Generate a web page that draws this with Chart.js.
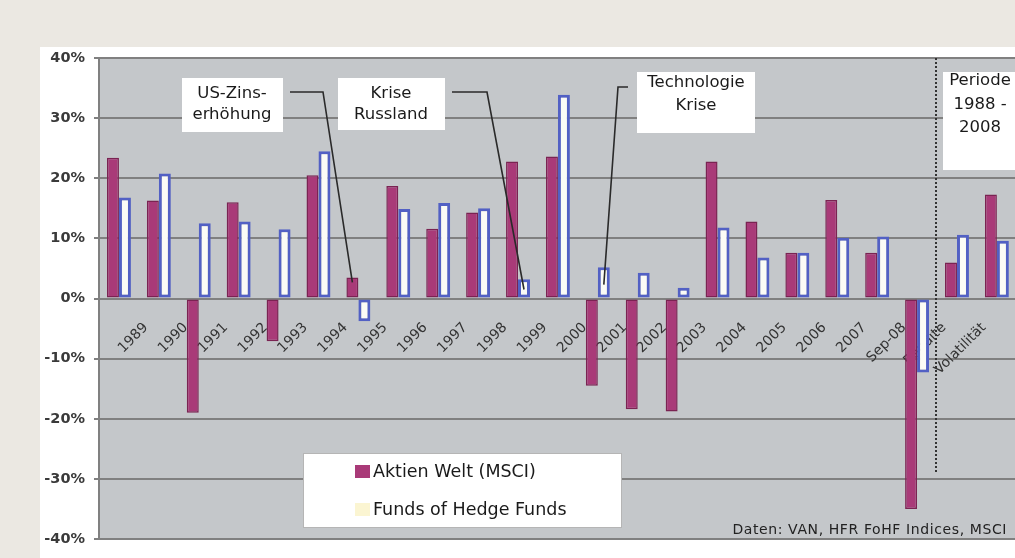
<!DOCTYPE html>
<html><head><meta charset="utf-8">
<script src="https://cdn.jsdelivr.net/npm/chart.js@4.4.1/dist/chart.umd.min.js"></script>
<style>
html,body{margin:0;padding:0;width:1015px;height:558px;overflow:hidden;background:#ebe8e2;}
#panel{position:absolute;left:40px;top:47px;width:1000px;height:520px;background:#ffffff;}
#c{position:absolute;left:0;top:0;}
</style></head><body>
<div id="panel"></div>
<canvas id="c" width="1030" height="558" style="width:1030px;height:558px"></canvas>
<script>
// ---- data ----
const categories = ['1988','1989','1990','1991','1992','1993','1994','1995','1996','1997','1998','1999','2000','2001','2002','2003','2004','2005','2006','2007','Sep-08','Rendite','Volatilität'];
const tickLabels = ['','1989','1990','1991','1992','1993','1994','1995','1996','1997','1998','1999','2000','2001','2002','2003','2004','2005','2006','2007','Sep-08','Rendite','Volatilität'];
const aktienWelt = [23.4,16.3,-19.0,16.0,-7.1,20.5,3.5,18.7,11.6,14.3,22.8,23.6,-14.5,-18.4,-18.8,22.8,12.8,7.6,16.4,7.6,-35.0,6.0,17.3];
const fundsOfHedgeFunds = [16.8,20.8,12.5,12.8,11.5,24.5,-3.8,14.9,15.9,15.0,3.2,33.9,5.2,4.3,1.8,11.8,6.8,7.6,10.1,10.3,-12.3,10.6,9.6];
const seriesNames = ['Aktien Welt (MSCI)','Funds of Hedge Funds'];
const yTickValues = [-40,-30,-20,-10,0,10,20,30,40];
const yTickLabels = ['-40%','-30%','-20%','-10%','0%','10%','20%','30%','40%'];
const annotationTexts = [['US-Zins-','erhöhung'],['Krise','Russland'],['Technologie','Krise'],['Periode','1988 -','2008']];
const annotationTargets = [{cat:'1994',series:0,value:2.7},{cat:'1998',series:1,value:1.5},{cat:'2000',series:1,value:2.3},null];
const sourceText = 'Daten: VAN, HFR FoHF Indices, MSCI';
const separatorAfter = 'Sep-08';
const separatorEndValue = -29;

// ---- layout / style ----
const boxLayout = [
  {x:182,y:78,w:101,h:54,cx:232,lines:[94,115],elbow:[[290,92],[323,92]]},
  {x:338,y:78,w:107,h:52,cx:391,lines:[94,115],elbow:[[452,92],[487,92]]},
  {x:637,y:72,w:118,h:61,cx:696,lines:[83,106],elbow:[[628,87],[618,87]]},
  {x:943,y:72,w:90,h:98,cx:980,lines:[81,105,128],elbow:null}
];
const magenta = '#a93a78', magentaBorder = '#7a2352';
const fohfFill = '#fbfbf6', fohfBorder = '#5260c4', fohfSwatch = '#fbf5d2';
const gridColor = '#808080';

const plotBg = {
  id:'plotBg',
  beforeDraw(chart){
    const {ctx, chartArea:a} = chart;
    ctx.save(); ctx.fillStyle = '#c4c7ca';
    ctx.fillRect(a.left, a.top, a.right - a.left, a.bottom - a.top);
    ctx.restore();
  }
};

const overlay = {
  id:'overlay',
  afterDraw(chart){
    const {ctx, scales:{x, y}, chartArea:a} = chart;
    ctx.save();
    // separator line
    const si = categories.indexOf(separatorAfter);
    const sx = Math.round((x.getPixelForValue(si) + x.getPixelForValue(si+1)) / 2) - 1;
    ctx.strokeStyle = '#333333'; ctx.lineWidth = 2; ctx.setLineDash([2,2]);
    ctx.beginPath(); ctx.moveTo(sx, a.top); ctx.lineTo(sx, y.getPixelForValue(separatorEndValue)); ctx.stroke();
    ctx.setLineDash([]);
    // annotation boxes
    ctx.font = '16.5px "DejaVu Sans"'; ctx.textAlign = 'center'; ctx.textBaseline = 'middle';
    annotationTexts.forEach((lines, i) => {
      const b = boxLayout[i];
      ctx.fillStyle = '#ffffff'; ctx.fillRect(b.x, b.y, b.w, b.h);
      ctx.fillStyle = '#1a1a1a';
      lines.forEach((t, j) => ctx.fillText(t, b.cx, b.lines[j]));
      const tg = annotationTargets[i];
      if (tg && b.elbow) {
        const idx = categories.indexOf(tg.cat);
        const tx = x.getPixelForValue(idx) + (tg.series === 0 ? -6 : 6);
        const ty = y.getPixelForValue(tg.value);
        ctx.strokeStyle = '#2a2a2a'; ctx.lineWidth = 1.6;
        ctx.beginPath(); ctx.moveTo(b.elbow[0][0], b.elbow[0][1]);
        ctx.lineTo(b.elbow[1][0], b.elbow[1][1]); ctx.lineTo(tx, ty); ctx.stroke();
      }
    });
    // legend
    ctx.fillStyle = '#ffffff'; ctx.fillRect(303, 453, 319, 75);
    ctx.strokeStyle = '#b5b5b5'; ctx.lineWidth = 1; ctx.strokeRect(303.5, 453.5, 318, 74);
    const ds = chart.data.datasets;
    ctx.textAlign = 'left'; ctx.font = '17.5px "DejaVu Sans"';
    ctx.fillStyle = ds[0].backgroundColor; ctx.fillRect(355, 465, 15, 13);
    ctx.fillStyle = fohfSwatch; ctx.fillRect(355, 503, 15, 13);
    ctx.fillStyle = '#1a1a1a';
    ctx.fillText(ds[0].label, 373, 472);
    ctx.fillText(ds[1].label, 373, 510);
    // source
    ctx.textAlign = 'right'; ctx.font = '14px "DejaVu Sans"'; ctx.fillStyle = '#222222';
    if ('letterSpacing' in ctx) ctx.letterSpacing = '0.6px';
    ctx.fillText(sourceText, 1007, 530);
    ctx.restore();
  }
};

new Chart(document.getElementById('c'), {
  type:'bar',
  data:{
    labels: tickLabels,
    datasets:[
      {label:seriesNames[0], data:aktienWelt, backgroundColor:magenta, borderColor:magentaBorder, borderWidth:1.5, borderSkipped:false},
      {label:seriesNames[1], data:fundsOfHedgeFunds, backgroundColor:fohfFill, borderColor:fohfBorder, borderWidth:3, borderSkipped:false}
    ]
  },
  options:{
    responsive:false, animation:false, devicePixelRatio:1,
    datasets:{bar:{barPercentage:1.0, categoryPercentage:0.6}},
    layout:{padding:{left:0, top:58, right:11, bottom:19}},
    plugins:{legend:{display:false}, tooltip:{enabled:false}},
    scales:{
      x:{
        position:{y:0}, offset:true,
        grid:{display:false, drawTicks:false},
        border:{display:false},
        ticks:{autoSkip:false, minRotation:45, maxRotation:45, padding:21, labelOffset:-13, color:'#333', font:{family:'DejaVu Sans', size:14}},
        afterFit(s){ s.height = 0; }
      },
      y:{
        min:-40, max:40,
        afterBuildTicks(s){ s.ticks = yTickValues.map(v => ({value:v})); },
        ticks:{padding:9, color:'#3a3a3a', font:{family:'DejaVu Sans', size:14.5, weight:'bold'},
          callback(v){ const i = yTickValues.indexOf(v); return i >= 0 ? yTickLabels[i] : ''; }},
        grid:{color:gridColor, lineWidth:2, tickLength:5, drawTicks:true},
        border:{display:true, color:gridColor, width:2},
        afterFit(s){ s.width = 99; }
      }
    }
  },
  plugins:[plotBg, overlay]
});
</script>
</body></html>
